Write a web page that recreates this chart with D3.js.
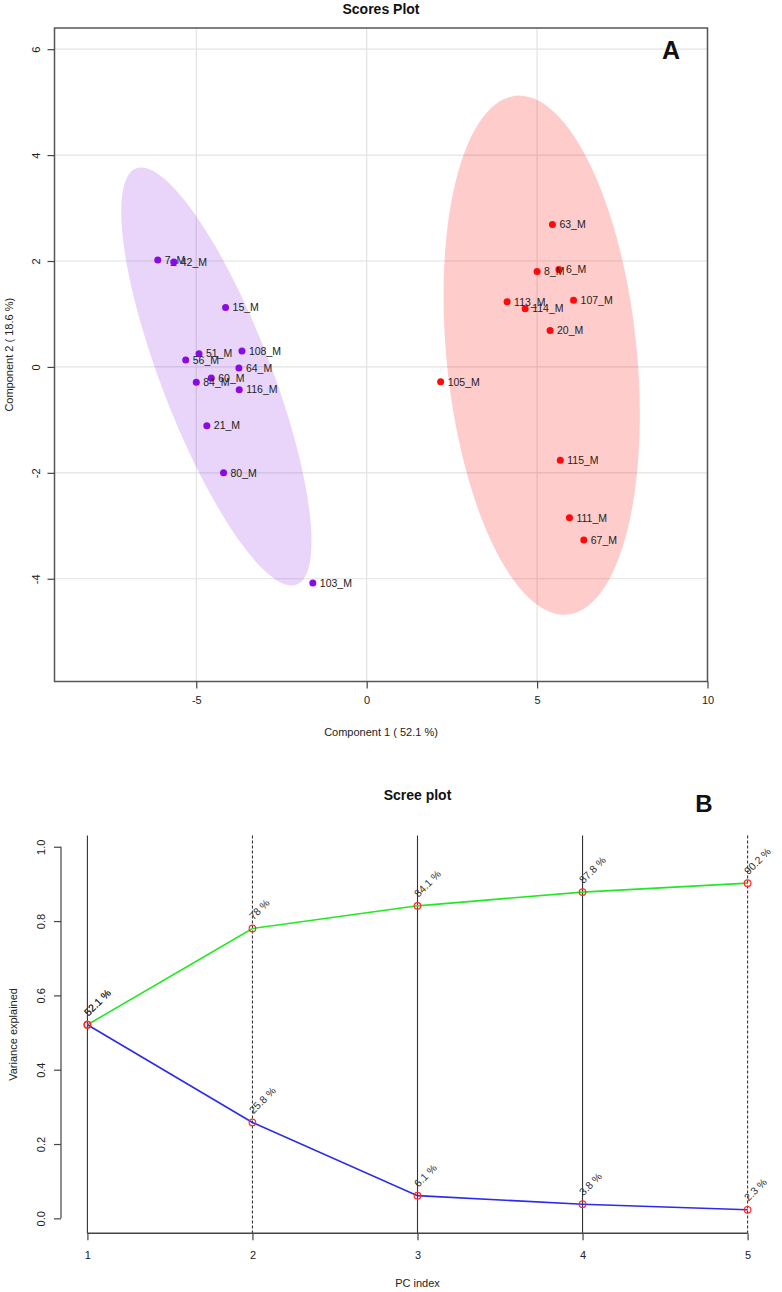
<!DOCTYPE html>
<html>
<head>
<meta charset="utf-8">
<script src="https://cdn.jsdelivr.net/npm/d3@7"></script>
<style>
  html, body { margin: 0; padding: 0; background: #ffffff; }
  svg { display: block; font-family: "Liberation Sans", Arial, sans-serif; }
</style>
</head>
<body>
<svg id="chart" width="782" height="1292"></svg>
<script>
// ---------- Data: Scores plot ----------
const purpleNames = ["7_M", "42_M", "15_M", "51_M", "108_M", "56_M", "64_M", "60_M", "84_M", "116_M", "21_M", "80_M", "103_M"];
const purpleX = [-6.13, -5.66, -4.14, -4.92, -3.66, -5.31, -3.75, -4.56, -5.00, -3.74, -4.69, -4.20, -1.58];
const purpleY = [2.02, 1.98, 1.12, 0.25, 0.30, 0.13, -0.02, -0.21, -0.29, -0.43, -1.11, -2.00, -4.08];

const redNames = ["63_M", "8_M", "6_M", "113_M", "114_M", "107_M", "20_M", "105_M", "115_M", "111_M", "67_M"];
const redX = [5.45, 5.00, 5.64, 4.12, 4.65, 6.07, 5.38, 2.17, 5.68, 5.95, 6.37];
const redY = [2.69, 1.80, 1.84, 1.23, 1.10, 1.26, 0.69, -0.28, -1.76, -2.85, -3.27];

const scoreXTicks = [-5, 0, 5, 10];
const scoreYTicks = [-4, -2, 0, 2, 4, 6];

// ---------- Data: Scree plot ----------
const pcIndex = [1, 2, 3, 4, 5];
const individualVar = [0.521, 0.258, 0.061, 0.038, 0.023];
const cumulativeVar = [0.521, 0.78, 0.841, 0.878, 0.902];
const individualLabels = ["52.1 %", "25.8 %", "6.1 %", "3.8 %", "2.3 %"];
const cumulativeLabels = ["52.1 %", "78 %", "84.1 %", "87.8 %", "90.2 %"];
const screeYTicks = [0, 0.2, 0.4, 0.6, 0.8, 1.0];

const svg = d3.select("#chart");
const FONT = "Liberation Sans, Arial, sans-serif";

// =====================================================
// Panel A: Scores plot
// =====================================================
const A = { left: 54.5, right: 707.5, top: 28, bottom: 681.5 };
const xS = d3.scaleLinear().domain([-9.16, 10]).range([A.left, A.right]);
const yS = d3.scaleLinear().domain([-5.94, 6.40]).range([A.bottom, A.top]);

const gA = svg.append("g");

// grid
gA.append("g").selectAll("line").data(scoreXTicks).join("line")
  .attr("x1", d => xS(d)).attr("x2", d => xS(d))
  .attr("y1", A.top).attr("y2", A.bottom)
  .attr("stroke", "#e2e2e2").attr("stroke-width", 1.2);
gA.append("g").selectAll("line").data(scoreYTicks).join("line")
  .attr("x1", A.left).attr("x2", A.right)
  .attr("y1", d => yS(d)).attr("y2", d => yS(d))
  .attr("stroke", "#e2e2e2").attr("stroke-width", 1.2);

// confidence ellipses (95%, from sample covariance)
function ellipsePoints(xs, ys) {
  const n = xs.length;
  const mx = d3.mean(xs), my = d3.mean(ys);
  let sxx = 0, syy = 0, sxy = 0;
  for (let i = 0; i < n; i++) {
    sxx += (xs[i] - mx) ** 2;
    syy += (ys[i] - my) ** 2;
    sxy += (xs[i] - mx) * (ys[i] - my);
  }
  sxx /= (n - 1); syy /= (n - 1); sxy /= (n - 1);
  const tr = sxx + syy, det = sxx * syy - sxy * sxy;
  const disc = Math.sqrt(tr * tr / 4 - det);
  const l1 = tr / 2 + disc, l2 = tr / 2 - disc;
  const ang = Math.atan2(l1 - sxx, sxy);
  const k = Math.sqrt(5.991);
  const a = k * Math.sqrt(l1), b = k * Math.sqrt(l2);
  const pts = [];
  for (let i = 0; i < 120; i++) {
    const t = 2 * Math.PI * i / 120;
    const dx = a * Math.cos(t), dy = b * Math.sin(t);
    pts.push([mx + dx * Math.cos(ang) - dy * Math.sin(ang),
              my + dx * Math.sin(ang) + dy * Math.cos(ang)]);
  }
  return pts;
}
const ellLine = d3.line().x(d => xS(d[0])).y(d => yS(d[1])).curve(d3.curveLinearClosed);

gA.append("path").attr("d", ellLine(ellipsePoints(purpleX, purpleY)))
  .attr("fill", "#8a2be2").attr("fill-opacity", 0.2).attr("stroke", "none");
gA.append("path").attr("d", ellLine(ellipsePoints(redX, redY)))
  .attr("fill", "#ff0000").attr("fill-opacity", 0.2).attr("stroke", "none");

// points + labels
function drawGroup(names, xs, ys, color) {
  const data = names.map((n, i) => ({ n, x: xs[i], y: ys[i] }));
  gA.append("g").selectAll("circle").data(data).join("circle")
    .attr("cx", d => xS(d.x)).attr("cy", d => yS(d.y)).attr("r", 3.5)
    .attr("fill", color);
  gA.append("g").selectAll("text").data(data).join("text")
    .attr("x", d => xS(d.x) + 7).attr("y", d => yS(d.y))
    .attr("dy", "0.36em")
    .attr("font-size", "10.5px").attr("fill", "#222")
    .text(d => d.n);
}
drawGroup(purpleNames, purpleX, purpleY, "#8a0ae6");
drawGroup(redNames, redX, redY, "#ff0a0a");

// box
gA.append("rect").attr("x", A.left).attr("y", A.top)
  .attr("width", A.right - A.left).attr("height", A.bottom - A.top)
  .attr("fill", "none").attr("stroke", "#555").attr("stroke-width", 1.5);

// axes
const axA_x = gA.append("g").attr("transform", `translate(0,${A.bottom})`)
  .call(d3.axisBottom(xS).tickValues(scoreXTicks).tickFormat(d => String(d)).tickSize(7).tickSizeOuter(0));
axA_x.select(".domain").remove();
axA_x.selectAll(".tick line").attr("stroke", "#444").attr("stroke-width", 1.2);
axA_x.selectAll(".tick text").attr("y", 19).attr("dy", "0.35em")
  .attr("font-size", "11px").attr("fill", "#222").attr("font-family", FONT);

const axA_y = gA.append("g").attr("transform", `translate(${A.left},0)`)
  .call(d3.axisLeft(yS).tickValues(scoreYTicks).tickFormat(d => String(d)).tickSize(7).tickSizeOuter(0));
axA_y.select(".domain").remove();
axA_y.selectAll(".tick line").attr("stroke", "#444").attr("stroke-width", 1.2);
axA_y.selectAll(".tick text")
  .attr("x", null).attr("dy", "0.35em").attr("text-anchor", "middle")
  .attr("transform", "translate(-18.5,0) rotate(-90)")
  .attr("font-size", "11px").attr("fill", "#222").attr("font-family", FONT);

// titles
svg.append("text").attr("x", (A.left + A.right) / 2).attr("y", 14)
  .attr("text-anchor", "middle").attr("font-weight", "bold").attr("font-size", "14px")
  .attr("fill", "#111").text("Scores Plot");
svg.append("text").attr("x", (A.left + A.right) / 2).attr("y", 732).attr("dy", "0.35em")
  .attr("text-anchor", "middle").attr("font-size", "11px").attr("fill", "#222")
  .text("Component 1 ( 52.1 %)");
svg.append("text").attr("transform", `translate(9,${(A.top + A.bottom) / 2}) rotate(-90)`)
  .attr("dy", "0.35em").attr("text-anchor", "middle").attr("font-size", "11px").attr("fill", "#222")
  .text("Component 2 ( 18.6 %)");
svg.append("text").attr("x", 671).attr("y", 59)
  .attr("text-anchor", "middle").attr("font-weight", "bold").attr("font-size", "25px")
  .attr("fill", "#111").text("A");

// =====================================================
// Panel B: Scree plot
// =====================================================
const B = { left: 61, right: 774, top: 835.6, bottom: 1233.2 };
const xP = d3.scaleLinear().domain([0.84, 5.16]).range([B.left, B.right]);
const yP = d3.scaleLinear().domain([-0.04, 1.03]).range([B.bottom, B.top]);

const gB = svg.append("g");

// vertical reference lines
gB.append("g").selectAll("line").data(pcIndex).join("line")
  .attr("x1", d => xP(d)).attr("x2", d => xP(d))
  .attr("y1", B.top).attr("y2", B.bottom)
  .attr("stroke", "#333").attr("stroke-width", 1.1)
  .attr("stroke-dasharray", d => (d === 2 || d === 5) ? "3,2" : null);

// lines
const lineP = d3.line().x((d, i) => xP(pcIndex[i])).y(d => yP(d));
gB.append("path").attr("d", lineP(cumulativeVar))
  .attr("fill", "none").attr("stroke", "#22e822").attr("stroke-width", 1.6);
gB.append("path").attr("d", lineP(individualVar))
  .attr("fill", "none").attr("stroke", "#2a2af0").attr("stroke-width", 1.6);

// point markers
[cumulativeVar, individualVar].forEach(arr => {
  gB.append("g").selectAll("circle").data(arr).join("circle")
    .attr("cx", (d, i) => xP(pcIndex[i])).attr("cy", d => yP(d)).attr("r", 3.3)
    .attr("fill", "none").attr("stroke", "#ff2a2a").attr("stroke-width", 1.2);
});

// rotated percentage labels
function screeLabels(vals, labels) {
  const data = vals.map((v, i) => ({ pc: pcIndex[i], v, lab: labels[i] }));
  gB.append("g").selectAll("text").data(data).join("text")
    .attr("transform", d => `translate(${xP(d.pc) + 1},${yP(d.v) - 8}) rotate(-45)`)
    .attr("font-size", "10.5px").attr("fill", "#333")
    .text(d => d.lab);
}
screeLabels(cumulativeVar, cumulativeLabels);
screeLabels(individualVar, individualLabels);

// y axis
const axB_y = gB.append("g").attr("transform", `translate(${B.left},0)`)
  .call(d3.axisLeft(yP).tickValues(screeYTicks).tickFormat(d3.format(".1f")).tickSize(7).tickSizeOuter(0));
axB_y.select(".domain").attr("stroke", "#444").attr("stroke-width", 1.2)
  .attr("d", `M0,${yP(0)}V${yP(1)}`);
axB_y.selectAll(".tick line").attr("stroke", "#444").attr("stroke-width", 1.2);
axB_y.selectAll(".tick text")
  .attr("x", null).attr("dy", "0.35em").attr("text-anchor", "middle")
  .attr("transform", "translate(-19.5,0) rotate(-90)")
  .attr("font-size", "11px").attr("fill", "#222").attr("font-family", FONT);

// x axis
const axB_x = gB.append("g").attr("transform", `translate(0,${B.bottom})`)
  .call(d3.axisBottom(xP).tickValues(pcIndex).tickFormat(d => String(d)).tickSize(7).tickSizeOuter(0));
axB_x.select(".domain").attr("stroke", "#444").attr("stroke-width", 1.6)
  .attr("d", `M${xP(1)},0H${xP(5)}`);
axB_x.selectAll(".tick line").attr("stroke", "#444").attr("stroke-width", 1.2);
axB_x.selectAll(".tick text").attr("y", 22).attr("dy", "0.35em")
  .attr("font-size", "11px").attr("fill", "#222").attr("font-family", FONT);

// titles
svg.append("text").attr("x", (B.left + B.right) / 2).attr("y", 800)
  .attr("text-anchor", "middle").attr("font-weight", "bold").attr("font-size", "14px")
  .attr("fill", "#111").text("Scree plot");
svg.append("text").attr("x", (B.left + B.right) / 2).attr("y", 1283).attr("dy", "0.35em")
  .attr("text-anchor", "middle").attr("font-size", "11px").attr("fill", "#222")
  .text("PC index");
svg.append("text").attr("transform", `translate(13,${(B.top + B.bottom) / 2}) rotate(-90)`)
  .attr("dy", "0.35em").attr("text-anchor", "middle").attr("font-size", "11px").attr("fill", "#222")
  .text("Variance explained");
svg.append("text").attr("x", 704).attr("y", 812)
  .attr("text-anchor", "middle").attr("font-weight", "bold").attr("font-size", "24px")
  .attr("fill", "#111").text("B");
</script>
</body>
</html>
